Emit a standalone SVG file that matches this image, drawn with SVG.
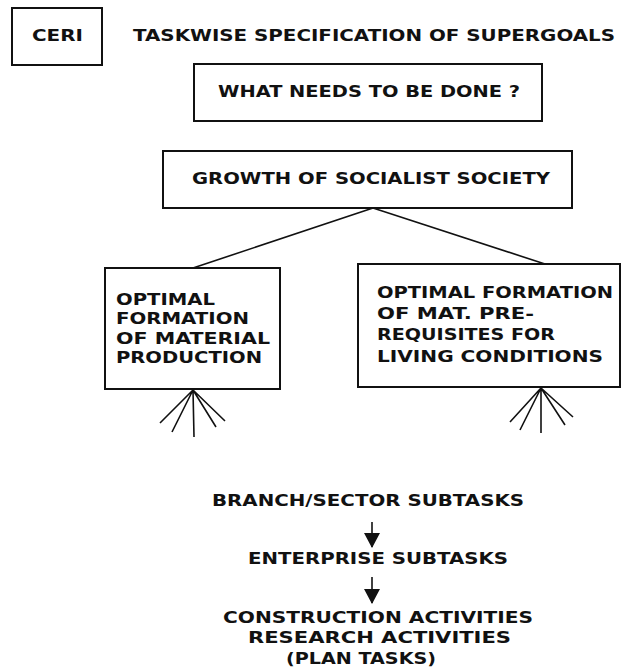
<svg xmlns="http://www.w3.org/2000/svg" width="622" height="668" viewBox="0 0 622 668">
<style>
text{font-family:"DejaVu Sans","Liberation Sans",sans-serif;font-weight:bold;font-size:16px;fill:#111}
.box{fill:#fff;stroke:#111;stroke-width:2}
.ln{stroke:#111;stroke-width:1.6;fill:none}
</style>
<defs>
<marker id="ah" markerWidth="16" markerHeight="18" refX="14" refY="9" markerUnits="userSpaceOnUse" orient="auto" viewBox="0 0 16 18"><path d="M0,1 L15,9 L0,17 Z" fill="#111"/></marker>
</defs>
<rect width="622" height="668" fill="#fff"/>
<g id="ceri"><rect class="box" x="12" y="8" width="90" height="57"/><text x="32" y="41" textLength="51" lengthAdjust="spacingAndGlyphs">CERI</text></g>
<g id="title"><text x="133" y="41" textLength="482" lengthAdjust="spacingAndGlyphs">TASKWISE SPECIFICATION OF SUPERGOALS</text></g>
<g id="what"><rect class="box" x="194" y="64" width="348" height="57"/><text x="218" y="97" textLength="302" lengthAdjust="spacingAndGlyphs">WHAT NEEDS TO BE DONE ?</text></g>
<g id="growth"><rect class="box" x="163" y="151" width="409" height="57"/><text x="192" y="184" textLength="358" lengthAdjust="spacingAndGlyphs">GROWTH OF SOCIALIST SOCIETY</text></g>
<g id="material"><rect class="box" x="105" y="268" width="175" height="121"/>
<text x="116" y="305" textLength="99" lengthAdjust="spacingAndGlyphs">OPTIMAL</text>
<text x="116" y="324" textLength="133" lengthAdjust="spacingAndGlyphs">FORMATION</text>
<text x="116" y="344" textLength="154" lengthAdjust="spacingAndGlyphs">OF MATERIAL</text>
<text x="116" y="363" textLength="146" lengthAdjust="spacingAndGlyphs">PRODUCTION</text></g>
<g id="living"><rect class="box" x="358" y="264" width="262" height="123"/>
<text x="377" y="298" textLength="236" lengthAdjust="spacingAndGlyphs">OPTIMAL FORMATION</text>
<text x="377" y="319" textLength="157" lengthAdjust="spacingAndGlyphs">OF MAT. PRE-</text>
<text x="377" y="340" textLength="178" lengthAdjust="spacingAndGlyphs">REQUISITES FOR</text>
<text x="377" y="362" textLength="226" lengthAdjust="spacingAndGlyphs">LIVING CONDITIONS</text></g>
<g id="branch"><text x="212" y="506" textLength="312" lengthAdjust="spacingAndGlyphs">BRANCH/SECTOR SUBTASKS</text></g>
<g id="enterprise"><text x="248" y="564" textLength="260" lengthAdjust="spacingAndGlyphs">ENTERPRISE SUBTASKS</text></g>
<g id="activities">
<text x="223" y="623" textLength="310" lengthAdjust="spacingAndGlyphs">CONSTRUCTION ACTIVITIES</text>
<text x="248" y="643" textLength="263" lengthAdjust="spacingAndGlyphs">RESEARCH ACTIVITIES</text>
<text x="286" y="664" textLength="150" lengthAdjust="spacingAndGlyphs">(PLAN TASKS)</text></g>
<g id="connectors">
<path class="ln" d="M373,208 L193,268"/>
<path class="ln" d="M373,208 L545,264"/>
<path class="ln" d="M193,390 L160,423 M193,390 L172,432 M193,390 L194,437 M193,390 L216,427 M193,390 L225,421"/>
<path class="ln" d="M541,388 L510,422 M541,388 L520,430 M541,388 L541,433 M541,388 L565,425 M541,388 L573,417"/>
<line class="ln" x1="372" y1="522" x2="372" y2="547" marker-end="url(#ah)"/>
<line class="ln" x1="372" y1="577" x2="372" y2="603" marker-end="url(#ah)"/>
</g>
</svg>
